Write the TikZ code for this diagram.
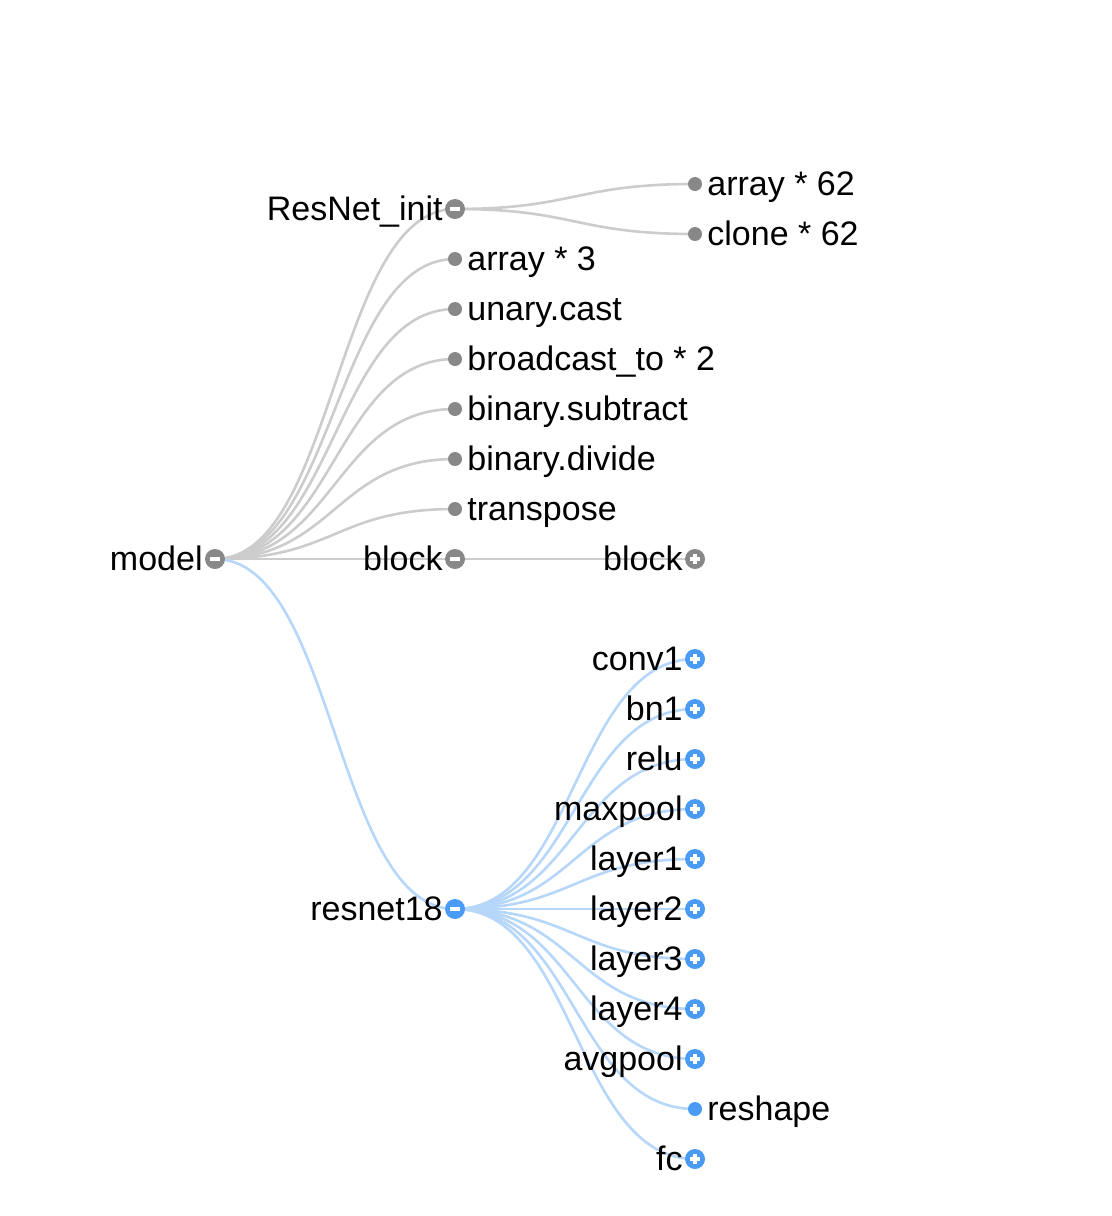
\documentclass[tikz,border=0pt]{standalone}
\usepackage{fontspec}
\setmainfont{Liberation Sans}
\usetikzlibrary{backgrounds}
\definecolor{nodegray}{HTML}{888888}
\definecolor{linkgray}{HTML}{CCCCCC}
\definecolor{nodeblue}{HTML}{4A9BF5}
\definecolor{linkblue}{HTML}{B6D6FA}
\tikzstyle{treetext} = [
	font=\fontsize{17pt}{20pt}\selectfont,
	inner sep=0pt,
	text height=11.5pt,
	text depth=0pt
]
\tikzstyle{lefttext} = [treetext, label distance=1pt]
\tikzstyle{righttext} = [treetext, label distance=2.5pt]
\tikzstyle{leafdot} = [
	circle,
	minimum size=7pt,
	inner sep=0pt,
	outer sep=0pt
]
\tikzstyle{minusdot} = [
	circle,
	minimum size=10pt,
	inner sep=0pt,
	outer sep=0pt,
	path picture={
		\draw[white, line width=1.6pt]
		  ([xshift=-2.6pt]path picture bounding box.center) --
		  ([xshift=2.6pt]path picture bounding box.center);
	}
]
\tikzstyle{plusdot} = [
	circle,
	minimum size=10pt,
	inner sep=0pt,
	outer sep=0pt,
	path picture={
		\draw[white, line width=1.6pt]
		  ([xshift=-2.6pt]path picture bounding box.center) --
		  ([xshift=2.6pt]path picture bounding box.center)
		  ([yshift=-2.6pt]path picture bounding box.center) --
		  ([yshift=2.6pt]path picture bounding box.center);
	}
]
\tikzstyle{glink} = [draw=linkgray, line width=1.3pt]
\tikzstyle{blink} = [draw=linkblue, line width=1.3pt]

\begin{document}
\begin{tikzpicture}[x=0.5pt, y=-0.5pt]
  \useasboundingbox (0,0) rectangle (1112,1216);
  % root
  \node (model) [minusdot, fill=nodegray, label={[lefttext]left:model}] at (215,559) {};
  % first level
  \node (resnetinit) [minusdot, fill=nodegray, label={[lefttext]left:ResNet\_init}] at (455,209) {};
  \node (arraythree) [leafdot, fill=nodegray, label={[righttext]right:array * 3}] at (455,259) {};
  \node (unarycast) [leafdot, fill=nodegray, label={[righttext]right:unary.cast}] at (455,309) {};
  \node (broadcast) [leafdot, fill=nodegray, label={[righttext]right:broadcast\_to * 2}] at (455,359) {};
  \node (subtract) [leafdot, fill=nodegray, label={[righttext]right:binary.subtract}] at (455,409) {};
  \node (divide) [leafdot, fill=nodegray, label={[righttext]right:binary.divide}] at (455,459) {};
  \node (transpose) [leafdot, fill=nodegray, label={[righttext]right:transpose}] at (455,509) {};
  \node (blockone) [minusdot, fill=nodegray, label={[lefttext]left:block}] at (455,559) {};
  \node (resnet) [minusdot, fill=nodeblue, label={[lefttext]left:resnet18}] at (455,909) {};
  % second level
  \node (arraysixtytwo) [leafdot, fill=nodegray, label={[righttext]right:array * 62}] at (695,184) {};
  \node (clonesixtytwo) [leafdot, fill=nodegray, label={[righttext]right:clone * 62}] at (695,234) {};
  \node (blocktwo) [plusdot, fill=nodegray, label={[lefttext]left:block}] at (695,559) {};
  \node (conv) [plusdot, fill=nodeblue, label={[lefttext]left:conv1}] at (695,659) {};
  \node (bn) [plusdot, fill=nodeblue, label={[lefttext]left:bn1}] at (695,709) {};
  \node (relu) [plusdot, fill=nodeblue, label={[lefttext]left:relu}] at (695,759) {};
  \node (maxpool) [plusdot, fill=nodeblue, label={[lefttext]left:maxpool}] at (695,809) {};
  \node (layerone) [plusdot, fill=nodeblue, label={[lefttext]left:layer1}] at (695,859) {};
  \node (layertwo) [plusdot, fill=nodeblue, label={[lefttext]left:layer2}] at (695,909) {};
  \node (layerthree) [plusdot, fill=nodeblue, label={[lefttext]left:layer3}] at (695,959) {};
  \node (layerfour) [plusdot, fill=nodeblue, label={[lefttext]left:layer4}] at (695,1009) {};
  \node (avgpool) [plusdot, fill=nodeblue, label={[lefttext]left:avgpool}] at (695,1059) {};
  \node (reshape) [leafdot, fill=nodeblue, label={[righttext]right:reshape}] at (695,1109) {};
  \node (fc) [plusdot, fill=nodeblue, label={[lefttext]left:fc}] at (695,1159) {};
  % links
  \begin{scope}[on background layer]
    \foreach \kid in {resnetinit, arraythree, unarycast, broadcast, subtract, divide, transpose, blockone}
      \draw [glink] (model.center) .. controls +(120,0) and +(-120,0) .. (\kid.center);
    \foreach \kid in {arraysixtytwo, clonesixtytwo}
      \draw [glink] (resnetinit.center) .. controls +(120,0) and +(-120,0) .. (\kid.center);
    \draw [glink] (blockone.center) -- (blocktwo.center);
    \draw [blink] (model.center) .. controls +(120,0) and +(-120,0) .. (resnet.center);
    \foreach \kid in {conv, bn, relu, maxpool, layerone, layertwo, layerthree, layerfour, avgpool, reshape, fc}
      \draw [blink] (resnet.center) .. controls +(120,0) and +(-120,0) .. (\kid.center);
  \end{scope}
\end{tikzpicture}
\end{document}
